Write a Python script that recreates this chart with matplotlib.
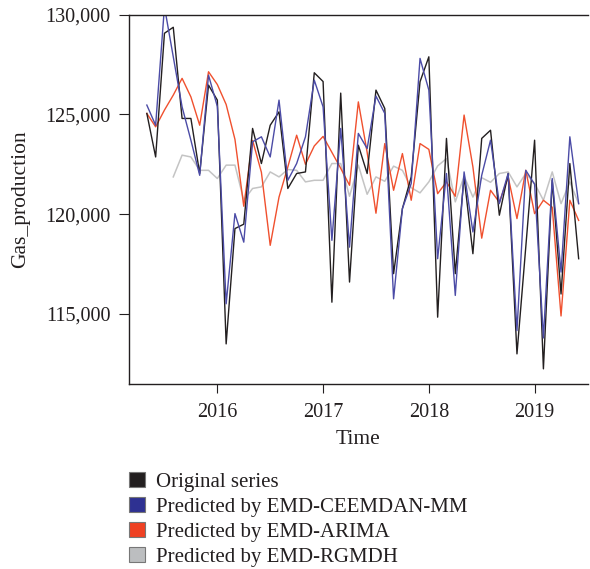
import numpy as np
import matplotlib.pyplot as plt
from matplotlib.patches import Patch

# monthly series, May 2015 .. June 2019
start_year, start_month = 2015, 5

original = [125050, 122870, 129070, 129370, 124800, 124800, 122040, 126470, 125720, 113500,
            119280, 119500, 124300, 122540, 124460, 125130, 121290, 122040, 122120, 127090,
            126650, 115590, 126070, 116600, 123460, 122040, 126220, 125300, 117020, 120280,
            121870, 126640, 127890, 114840, 123800, 117020, 121870, 118020, 123800, 124210,
            119950, 122040, 113000, 118360, 123710, 112250, 121700, 116000, 122540, 117770]

ceemdan_mm = [125470, 124460, 130400, 127890, 125380, 123710, 121950, 126970, 125400, 115510,
              120030, 118600, 123630, 123880, 122870, 125720, 121700, 122540, 123880, 126720,
              125380, 118690, 124300, 118350, 124050, 123290, 125920, 125050, 115760, 120280,
              121540, 127810, 126220, 117770, 122040, 115930, 122120, 119110, 121950, 123710,
              120530, 122040, 114170, 122200, 121500, 113800, 121790, 117100, 123880, 120530]

arima = [125050, 124380, 125220, 125970, 126810, 125880, 124460, 127140, 126500, 125500,
         123750, 120400, 123700, 122100, 118440, 120860, 122370, 123960, 122500, 123420,
         123900, 123100, 122300, 121450, 125630, 123100, 120050, 123540, 121200, 123040,
         120700, 123540, 123250, 121030, 121620, 120900, 124970, 122370, 118800, 121200,
         120600, 121870, 119780, 122200, 120030, 120700, 120350, 114900, 120700, 119690]

rgmdh = [np.nan, np.nan, np.nan, 121870, 122960, 122870, 122200, 122200, 121790, 122460,
         122460, 120700, 121290, 121370, 122120, 121870, 122240, 122200, 121620, 121700,
         121700, 122540, 122540, 120900, 122460, 121000, 121870, 121650, 122410, 122200,
         121330, 121070, 121620, 122420, 122790, 120620, 121910, 120860, 121830, 121600,
         122040, 122120, 121370, 122040, 121540, 120700, 122120, 120530, 121620, 120530]

labels = ["Original series", "Predicted by EMD-CEEMDAN-MM",
          "Predicted by EMD-ARIMA", "Predicted by EMD-RGMDH"]
line_colors = ["#231f20", "#4b4ba6", "#f0502e", "#c4c4c4"]
box_colors = ["#231f20", "#2e3192", "#ef4123", "#bcbec0"]

t = start_year + (start_month - 1 + np.arange(len(original))) / 12

plt.rcParams['font.family'] = ['Liberation Serif', 'DejaVu Serif']
plt.rcParams['font.size'] = 14.5

fig = plt.figure(figsize=(5.9, 5.69), dpi=100)
ax = fig.add_axes([128.5 / 590, 185 / 569, (588 - 128.5) / 590, (384 - 14.7) / 569])

ax.plot(t, rgmdh, color=line_colors[3], lw=1.1)
ax.plot(t, arima, color=line_colors[2], lw=1.0)
ax.plot(t, original, color=line_colors[0], lw=1.0)
ax.plot(t, ceemdan_mm, color=line_colors[1], lw=1.0)

ax.set_xlim(2015.16, 2019.505)
ax.set_ylim(111490, 130000)
ax.set_xticks([2016, 2017, 2018, 2019])
ax.set_yticks([115000, 120000, 125000, 130000])
ax.yaxis.set_major_formatter(plt.FuncFormatter(lambda v, p: f"{int(v):,}"))
ax.tick_params(direction='out', width=0.8, colors='#231f20', labelcolor='#231f20')
ax.tick_params(axis='y', length=7, pad=6)
ax.tick_params(axis='x', length=6.5, pad=7)
ax.spines['right'].set_visible(False)
for s in ['left', 'bottom', 'top']:
    ax.spines[s].set_linewidth(1.0)
    ax.spines[s].set_color('#231f20')

ax.set_xlabel("Time", color='#231f20', fontsize=15.5, labelpad=6)
ax.set_ylabel("Gas_production", color='#231f20', fontsize=15.5, labelpad=11)

handles = [Patch(facecolor=c, edgecolor='#777777', lw=0.8) for c in box_colors]
fig.legend(handles, labels, loc='upper left', bbox_to_anchor=(129 / 590, 1 - 472 / 569),
           frameon=False, handlelength=0.75, handleheight=0.75, handletextpad=0.55,
           labelspacing=0.24, borderaxespad=0, borderpad=0, labelcolor='#231f20',
           fontsize=15)

fig.savefig("out.png", dpi=100)
